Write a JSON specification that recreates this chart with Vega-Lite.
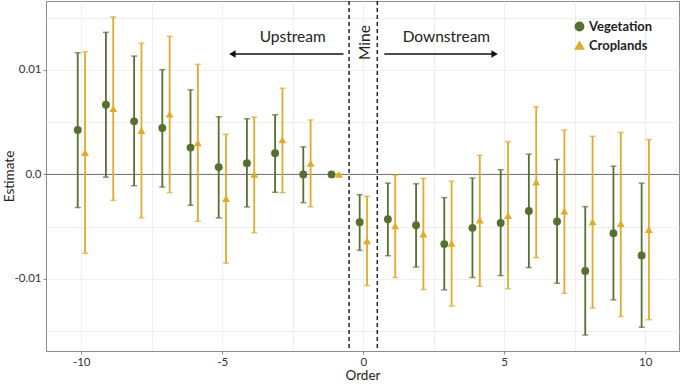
{
  "$schema": "https://vega.github.io/schema/vega-lite/v6.json",
  "width": 633,
  "height": 350,
  "autosize": "none",
  "padding": {"left": 46, "top": 1, "right": 1, "bottom": 35},
  "background": "white",
  "config": {
    "font": "Lato",
    "view": {"stroke": "#8c8c8c", "strokeWidth": 1},
    "axis": {
      "labelFont": "Lato", "titleFont": "Lato", "labelColor": "#333", "titleColor": "#222",
      "labelFontSize": 11.5, "titleFontSize": 13.5, "titleFontWeight": "normal",
      "domainColor": "#8c8c8c", "tickColor": "#8c8c8c", "tickSize": 3,
      "gridColor": "#ebebeb", "gridWidth": 0.8
    },
    "legend": {
      "labelFont": "Lato", "labelFontSize": 13, "labelFontWeight": "bold", "labelColor": "#222",
      "symbolSize": 70, "symbolOpacity": 1, "rowPadding": 4, "labelOffset": 3
    }
  },
  "datasets": {
    "est": [
      {"Order": -10, "Type": "Vegetation", "Estimate": 0.00426, "Lower": -0.00317, "Upper": 0.01165},
      {"Order": -10, "Type": "Croplands", "Estimate": 0.0021, "Lower": -0.00755, "Upper": 0.01174},
      {"Order": -9, "Type": "Vegetation", "Estimate": 0.00667, "Lower": -0.00026, "Upper": 0.0136},
      {"Order": -9, "Type": "Croplands", "Estimate": 0.0063, "Lower": -0.00248, "Upper": 0.01508},
      {"Order": -8, "Type": "Vegetation", "Estimate": 0.00508, "Lower": -0.00108, "Upper": 0.01133},
      {"Order": -8, "Type": "Croplands", "Estimate": 0.0042, "Lower": -0.00416, "Upper": 0.01257},
      {"Order": -7, "Type": "Vegetation", "Estimate": 0.00445, "Lower": -0.00121, "Upper": 0.01003},
      {"Order": -7, "Type": "Croplands", "Estimate": 0.00578, "Lower": -0.00174, "Upper": 0.01321},
      {"Order": -6, "Type": "Vegetation", "Estimate": 0.00257, "Lower": -0.00295, "Upper": 0.0081},
      {"Order": -6, "Type": "Croplands", "Estimate": 0.00302, "Lower": -0.00448, "Upper": 0.01054},
      {"Order": -5, "Type": "Vegetation", "Estimate": 0.0007, "Lower": -0.00416, "Upper": 0.00552},
      {"Order": -5, "Type": "Croplands", "Estimate": -0.00232, "Lower": -0.0085, "Upper": 0.00384},
      {"Order": -4, "Type": "Vegetation", "Estimate": 0.00108, "Lower": -0.00311, "Upper": 0.00533},
      {"Order": -4, "Type": "Croplands", "Estimate": 0.0, "Lower": -0.00559, "Upper": 0.0055},
      {"Order": -3, "Type": "Vegetation", "Estimate": 0.00203, "Lower": -0.00171, "Upper": 0.00571},
      {"Order": -3, "Type": "Croplands", "Estimate": 0.0033, "Lower": -0.00175, "Upper": 0.00825},
      {"Order": -2, "Type": "Vegetation", "Estimate": 0.0, "Lower": -0.0027, "Upper": 0.00264},
      {"Order": -2, "Type": "Croplands", "Estimate": 0.00105, "Lower": -0.0031, "Upper": 0.00521},
      {"Order": -1, "Type": "Vegetation", "Estimate": 0.0, "Lower": 0.0, "Upper": 0.0},
      {"Order": -1, "Type": "Croplands", "Estimate": 0.0, "Lower": 0.0, "Upper": 0.0},
      {"Order": 0, "Type": "Vegetation", "Estimate": -0.00457, "Lower": -0.00727, "Upper": -0.00194},
      {"Order": 0, "Type": "Croplands", "Estimate": -0.00635, "Lower": -0.01063, "Upper": -0.0021},
      {"Order": 1, "Type": "Vegetation", "Estimate": -0.00429, "Lower": -0.00778, "Upper": -0.00083},
      {"Order": 1, "Type": "Croplands", "Estimate": -0.00492, "Lower": -0.00987, "Upper": -0.00006},
      {"Order": 2, "Type": "Vegetation", "Estimate": -0.00486, "Lower": -0.00886, "Upper": -0.00089},
      {"Order": 2, "Type": "Croplands", "Estimate": -0.00571, "Lower": -0.01102, "Upper": -0.00038},
      {"Order": 3, "Type": "Vegetation", "Estimate": -0.00667, "Lower": -0.01105, "Upper": -0.00222},
      {"Order": 3, "Type": "Croplands", "Estimate": -0.0066, "Lower": -0.0126, "Upper": -0.00064},
      {"Order": 4, "Type": "Vegetation", "Estimate": -0.00511, "Lower": -0.00987, "Upper": -0.00035},
      {"Order": 4, "Type": "Croplands", "Estimate": -0.00438, "Lower": -0.0107, "Upper": 0.00184},
      {"Order": 5, "Type": "Vegetation", "Estimate": -0.00464, "Lower": -0.00968, "Upper": 0.00045},
      {"Order": 5, "Type": "Croplands", "Estimate": -0.00394, "Lower": -0.01095, "Upper": 0.00314},
      {"Order": 6, "Type": "Vegetation", "Estimate": -0.00349, "Lower": -0.00892, "Upper": 0.00194},
      {"Order": 6, "Type": "Croplands", "Estimate": -0.00073, "Lower": -0.00797, "Upper": 0.00648},
      {"Order": 7, "Type": "Vegetation", "Estimate": -0.0045, "Lower": -0.01041, "Upper": 0.00143},
      {"Order": 7, "Type": "Croplands", "Estimate": -0.00352, "Lower": -0.01137, "Upper": 0.00426},
      {"Order": 8, "Type": "Vegetation", "Estimate": -0.00924, "Lower": -0.01537, "Upper": -0.00308},
      {"Order": 8, "Type": "Croplands", "Estimate": -0.00454, "Lower": -0.01279, "Upper": 0.00365},
      {"Order": 9, "Type": "Vegetation", "Estimate": -0.00562, "Lower": -0.012, "Upper": 0.00079},
      {"Order": 9, "Type": "Croplands", "Estimate": -0.0047, "Lower": -0.01359, "Upper": 0.00403},
      {"Order": 10, "Type": "Vegetation", "Estimate": -0.00775, "Lower": -0.01463, "Upper": -0.00083},
      {"Order": 10, "Type": "Croplands", "Estimate": -0.00527, "Lower": -0.0139, "Upper": 0.00333}
    ]
  },
  "layer": [
    {
      "data": {"values": [{"y": 0}]},
      "mark": {"type": "rule", "color": "#6e6e6e", "strokeWidth": 1},
      "encoding": {"y": {"field": "y", "type": "quantitative"}}
    },
    {
      "data": {"values": [{"x": -0.5}, {"x": 0.5}]},
      "mark": {"type": "rule", "color": "#222", "strokeWidth": 1.5, "strokeDash": [4, 3]},
      "encoding": {"x": {"field": "x", "type": "quantitative"}}
    },
    {
      "data": {"name": "est"},
      "transform": [{"calculate": "datum.Order + (datum.Type == 'Vegetation' ? -0.125 : 0.135)", "as": "Pos"}],
      "encoding": {
        "color": {
          "field": "Type", "type": "nominal",
          "scale": {"domain": ["Vegetation", "Croplands"], "range": ["#56702f", "#e0aa2c"]},
          "legend": {"title": null, "orient": "none", "legendX": 527, "legendY": 19}
        }
      },
      "layer": [
        {
          "mark": {"type": "rule", "strokeWidth": 1.8},
          "encoding": {
            "x": {"field": "Pos", "type": "quantitative"},
            "y": {"field": "Lower", "type": "quantitative"},
            "y2": {"field": "Upper"}
          }
        },
        {
          "mark": {"type": "tick", "orient": "horizontal", "size": 6, "thickness": 1.5},
          "encoding": {
            "x": {"field": "Pos", "type": "quantitative"},
            "y": {"field": "Lower", "type": "quantitative"}
          }
        },
        {
          "mark": {"type": "tick", "orient": "horizontal", "size": 6, "thickness": 1.5},
          "encoding": {
            "x": {"field": "Pos", "type": "quantitative"},
            "y": {"field": "Upper", "type": "quantitative"}
          }
        },
        {
          "mark": {"type": "point", "filled": true, "opacity": 1, "size": 62},
          "encoding": {
            "x": {"field": "Pos", "type": "quantitative"},
            "y": {"field": "Estimate", "type": "quantitative"},
            "shape": {
              "field": "Type", "type": "nominal",
              "scale": {"domain": ["Vegetation", "Croplands"], "range": ["circle", "triangle-up"]},
              "legend": {"title": null, "orient": "none", "legendX": 527, "legendY": 19}
            }
          }
        }
      ]
    },
    {
      "data": {"values": [{"x1": -0.7, "x2": -4.6, "y": 0.01152}, {"x1": 0.75, "x2": 4.65, "y": 0.01152}]},
      "mark": {"type": "rule", "color": "#111", "strokeWidth": 1.6},
      "encoding": {
        "x": {"field": "x1", "type": "quantitative"},
        "x2": {"field": "x2"},
        "y": {"field": "y", "type": "quantitative"}
      }
    },
    {
      "data": {"values": [{"x": -4.64, "y": 0.01152}]},
      "mark": {"type": "point", "filled": true, "opacity": 1, "color": "#111", "size": 55, "shape": "triangle-left"},
      "encoding": {
        "x": {"field": "x", "type": "quantitative"},
        "y": {"field": "y", "type": "quantitative"}
      }
    },
    {
      "data": {"values": [{"x": 4.66, "y": 0.01152}]},
      "mark": {"type": "point", "filled": true, "opacity": 1, "color": "#111", "size": 55, "shape": "triangle-right"},
      "encoding": {
        "x": {"field": "x", "type": "quantitative"},
        "y": {"field": "y", "type": "quantitative"}
      }
    },
    {
      "data": {"values": [{"x": -2.5, "y": 0.01314, "label": "Upstream"}, {"x": 2.95, "y": 0.01314, "label": "Downstream"}]},
      "mark": {"type": "text", "font": "Lato", "fontSize": 15.5, "color": "#222", "baseline": "middle"},
      "encoding": {
        "x": {"field": "x", "type": "quantitative"},
        "y": {"field": "y", "type": "quantitative"},
        "text": {"field": "label"}
      }
    },
    {
      "data": {"values": [{"x": 0.05, "y": 0.01262, "label": "Mine"}]},
      "mark": {"type": "text", "font": "Lato", "fontSize": 15.5, "color": "#222", "angle": 270, "baseline": "middle", "align": "center"},
      "encoding": {
        "x": {"field": "x", "type": "quantitative"},
        "y": {"field": "y", "type": "quantitative"},
        "text": {"field": "label"}
      }
    }
  ],
  "encoding": {
    "x": {
      "type": "quantitative",
      "scale": {"domain": [-11.25, 11.2], "nice": false, "zero": false},
      "axis": {
        "title": "Order", "titlePadding": 1,
        "values": [-10, -7.5, -5, -2.5, 0, 2.5, 5, 7.5, 10],
        "labelExpr": "datum.value % 5 == 0 ? toString(datum.value) : ''",
        "tickOpacity": {"condition": {"test": "datum.value % 5 == 0", "value": 1}, "value": 0},
        "labelPadding": 2
      }
    },
    "y": {
      "type": "quantitative",
      "scale": {"domain": [-0.0169, 0.0166], "nice": false, "zero": false},
      "axis": {
        "title": "Estimate", "titleX": -30, "titleY": 175, "titleAlign": "center", "titleAngle": 270,
        "values": [-0.015, -0.01, -0.005, 0, 0.005, 0.01, 0.015],
        "labelExpr": "datum.value == 0 ? '0.0' : (abs(datum.value) == 0.01 ? toString(datum.value) : '')",
        "tickOpacity": {"condition": {"test": "abs(datum.value) == 0.01 || datum.value == 0", "value": 1}, "value": 0},
        "labelPadding": 2
      }
    }
  }
}
